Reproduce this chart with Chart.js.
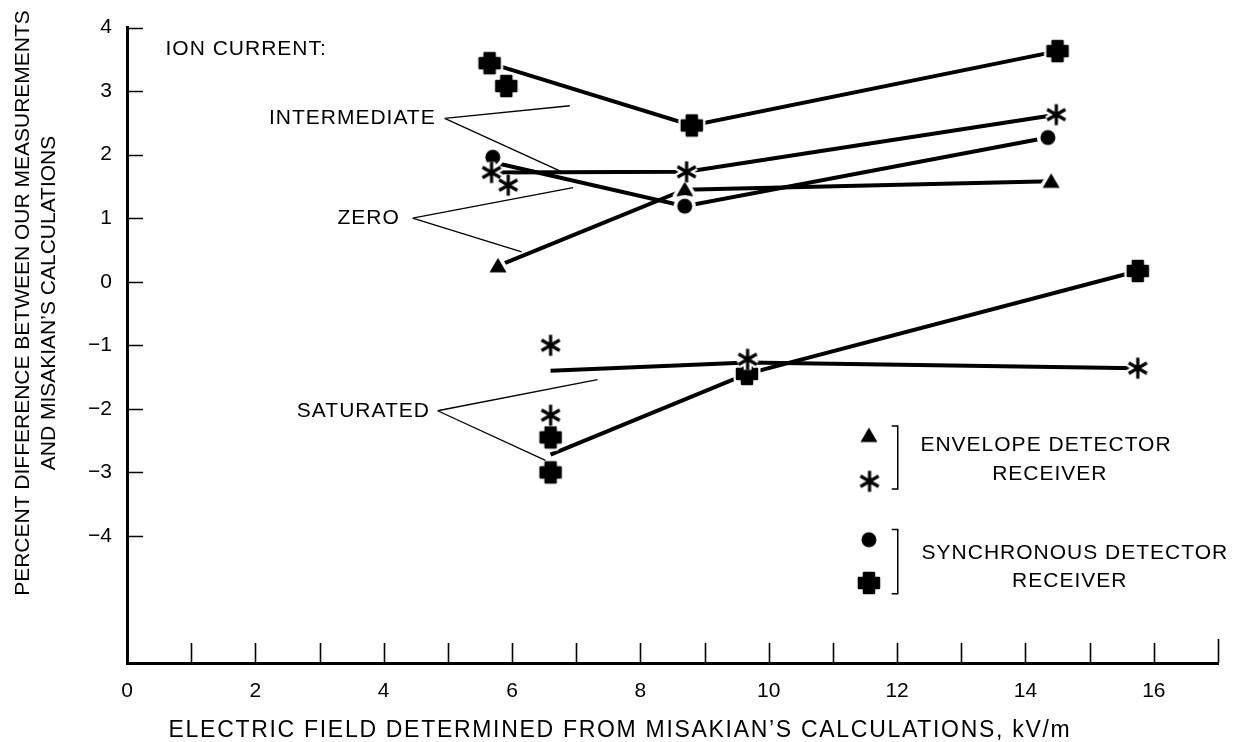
<!DOCTYPE html>
<html>
<head>
<meta charset="utf-8">
<script src="https://cdn.jsdelivr.net/npm/chart.js@4.4.0/dist/chart.umd.min.js"></script>
<style>
  html, body { margin: 0; padding: 0; background: #fff; }
  #wrap { width: 1237px; height: 742px; }
</style>
</head>
<body>
<div id="wrap"><canvas id="chart" width="1237" height="742"></canvas></div>
<script>
// values: x = field (kV/m), y = percent difference
// synchronous detector receiver (filled cross)
const syncX = [5.65, 5.91, 8.80, 14.5, 6.6, 6.6, 9.66, 15.75];
const syncY = [3.44, 3.08, 2.46, 3.63, -2.45, -3.0, -1.45, 0.17];
// synchronous detector receiver (filled circle)
const circX = [5.70, 8.69, 14.35];
const circY = [1.96, 1.19, 2.27];
// envelope detector receiver (asterisk)
const starX = [5.68, 5.94, 8.72, 14.48, 6.6, 6.6, 9.67, 15.75];
const starY = [1.72, 1.52, 1.73, 2.63, -1.0, -2.1, -1.22, -1.36];
// envelope detector receiver (triangle)
const triX = [5.78, 8.69, 14.4];
const triY = [0.25, 1.45, 1.58];

// connecting lines, one per ion current / receiver
const intSyncX = [5.65, 8.80, 14.5], intSyncY = [3.44, 2.46, 3.63];
const intEnvX = [5.68, 8.72, 14.48], intEnvY = [1.72, 1.73, 2.63];
const zeroSyncX = [5.75, 8.69, 14.35], zeroSyncY = [1.87, 1.19, 2.27];
const zeroEnvX = [5.78, 8.69, 14.4], zeroEnvY = [0.25, 1.45, 1.58];
const satEnvX = [6.6, 9.67, 15.75], satEnvY = [-1.4, -1.27, -1.36];
const satSyncX = [6.6, 9.66, 15.75], satSyncY = [-2.72, -1.45, 0.17];

// axes
const xTickLabels = [0, 2, 4, 6, 8, 10, 12, 14, 16];
const yTickLabels = [4, 3, 2, 1, 0, -1, -2, -3, -4];

const FONT = '"Liberation Sans", Arial, Helvetica, sans-serif';
Chart.defaults.font.family = FONT;
Chart.defaults.color = '#000';

const pts = (xs, ys) => xs.map((v, i) => ({ x: v, y: ys[i] }));

// marker images (black shape with a white halo so lines break at the marks)
function marker(kind) {
  const c = document.createElement('canvas');
  c.width = 32; c.height = 32;
  const g = c.getContext('2d');
  g.translate(16, 16);
  g.lineJoin = 'round';
  const shape = () => {
    g.beginPath();
    if (kind === 'circle') {
      g.arc(0, 0, 7.5, 0, Math.PI * 2);
    } else if (kind === 'tri') {
      g.moveTo(0, -8); g.lineTo(8.5, 6.5); g.lineTo(-8.5, 6.5); g.closePath();
    } else if (kind === 'cross') {
      const a = 5, L = 10;
      g.moveTo(-a, -L); g.lineTo(a, -L); g.lineTo(a, -a); g.lineTo(L, -a);
      g.lineTo(L, a); g.lineTo(a, a); g.lineTo(a, L); g.lineTo(-a, L);
      g.lineTo(-a, a); g.lineTo(-L, a); g.lineTo(-L, -a); g.lineTo(-a, -a);
      g.closePath();
    } else {
      for (const deg of [90, 30, -30]) {
        const r = deg * Math.PI / 180;
        g.moveTo(-10.5 * Math.cos(r), -10.5 * Math.sin(r));
        g.lineTo(10.5 * Math.cos(r), 10.5 * Math.sin(r));
      }
    }
  };
  shape();
  g.strokeStyle = '#fff';
  g.lineWidth = kind === 'star' ? 8 : 7;
  g.stroke();
  if (kind !== 'star') { g.fillStyle = '#fff'; g.fill(); }
  shape();
  g.strokeStyle = '#000';
  if (kind === 'star') {
    g.lineWidth = 3.2;
    g.stroke();
  } else {
    g.fillStyle = '#000';
    g.fill();
    if (kind === 'cross') { g.lineWidth = 2.5; g.stroke(); g.beginPath(); g.arc(0, 0, 7, 0, Math.PI * 2); g.fill(); }
  }
  return c;
}
const mk = { cross: marker('cross'), circle: marker('circle'), star: marker('star'), tri: marker('tri') };

const lineSet = (xs, ys) => ({
  data: pts(xs, ys), showLine: true, pointRadius: 0, borderColor: '#000',
  borderWidth: 4, order: 2, borderCapStyle: 'butt'
});
const markSet = (xs, ys, img, order) => ({
  data: pts(xs, ys), showLine: false, pointStyle: img, pointRadius: 10, order
});

// labels, leaders and key, placed in axis units
const decor = {
  id: 'decor',
  afterDraw(chart) {
    const { ctx, chartArea: area, scales: { x, y } } = chart;
    const X = v => x.getPixelForValue(v), Y = v => y.getPixelForValue(v);
    ctx.save();
    ctx.strokeStyle = '#000';
    ctx.fillStyle = '#000';

    // inward tick marks
    ctx.lineWidth = 1.6;
    ctx.beginPath();
    x.ticks.forEach(t => {
      if (t.value <= 0) return;
      const px = Math.round(X(t.value)) + 0.5;
      ctx.moveTo(px, area.bottom); ctx.lineTo(px, area.bottom - (t.value === 17 ? 24 : 20));
    });
    y.ticks.forEach(t => {
      if (t.value < -4) return;
      const py = Math.round(Y(t.value)) + 0.5;
      ctx.moveTo(area.left, py); ctx.lineTo(area.left + 16, py);
    });
    ctx.stroke();

    // group labels
    ctx.font = '21px ' + FONT;
    ctx.letterSpacing = '1px';
    ctx.textBaseline = 'middle';
    ctx.textAlign = 'left';
    ctx.fillText('ION CURRENT:', X(0.6), Y(3.66));
    ctx.textAlign = 'right';
    ctx.fillText('INTERMEDIATE', X(4.81), Y(2.58));
    ctx.fillText('ZERO', X(4.25), Y(1.0));
    ctx.fillText('SATURATED', X(4.72), Y(-2.03));

    ctx.lineWidth = 1.3;
    const leader = (ox, oy, ends) => {
      ctx.beginPath();
      ends.forEach(([ex, ey]) => { ctx.moveTo(X(ox), Y(oy)); ctx.lineTo(X(ex), Y(ey)); });
      ctx.stroke();
    };
    leader(4.95, 2.57, [[6.90, 2.77], [6.82, 1.71]]);
    leader(4.45, 1.0, [[6.95, 1.48], [6.15, 0.47]]);
    leader(4.84, -2.03, [[7.33, -1.54], [6.52, -2.81]]);

    // key
    const img = (c, vx, vy) => ctx.drawImage(c, X(vx) - c.width / 2, Y(vy) - c.height / 2);
    img(mk.tri, 11.56, -2.42);
    img(mk.star, 11.57, -3.14);
    img(mk.circle, 11.56, -4.06);
    img(mk.cross, 11.56, -4.74);
    ctx.lineWidth = 1.5;
    const bracket = (bx, top, bot) => {
      ctx.beginPath();
      ctx.moveTo(X(bx) - 6, Y(top)); ctx.lineTo(X(bx), Y(top));
      ctx.lineTo(X(bx), Y(bot)); ctx.lineTo(X(bx) - 6, Y(bot));
      ctx.stroke();
    };
    bracket(12.01, -2.27, -3.26);
    bracket(12.01, -3.9, -4.91);
    ctx.textAlign = 'center';
    ctx.fillText('ENVELOPE DETECTOR', X(14.32), Y(-2.58));
    ctx.fillText('RECEIVER', X(14.38), Y(-3.03));
    ctx.fillText('SYNCHRONOUS DETECTOR', X(14.77), Y(-4.27));
    ctx.fillText('RECEIVER', X(14.69), Y(-4.71));

    // axis titles
    ctx.font = '23px ' + FONT;
    ctx.letterSpacing = '1.7px';
    ctx.fillText('ELECTRIC FIELD DETERMINED FROM MISAKIAN\u2019S CALCULATIONS, kV/m', 620, 731);
    ctx.font = '21px ' + FONT;
    ctx.letterSpacing = '0px';
    ctx.save();
    ctx.translate(0, 303);
    ctx.rotate(-Math.PI / 2);
    ctx.fillText('PERCENT DIFFERENCE BETWEEN OUR MEASUREMENTS', 0, 23);
    ctx.fillText('AND MISAKIAN\u2019S CALCULATIONS', 0, 49);
    ctx.restore();
    ctx.restore();
  }
};

new Chart(document.getElementById('chart'), {
  type: 'scatter',
  data: {
    datasets: [
      markSet(starX, starY, mk.star, 0),
      markSet(syncX, syncY, mk.cross, 1),
      markSet(circX, circY, mk.circle, 1),
      markSet(triX, triY, mk.tri, 1),
      lineSet(intSyncX, intSyncY),
      lineSet(intEnvX, intEnvY),
      lineSet(zeroSyncX, zeroSyncY),
      lineSet(zeroEnvX, zeroEnvY),
      lineSet(satEnvX, satEnvY),
      lineSet(satSyncX, satSyncY)
    ]
  },
  options: {
    responsive: false,
    animation: false,
    layout: { padding: { top: 20, right: 19, left: 0, bottom: 0 } },
    plugins: { legend: { display: false }, tooltip: { enabled: false } },
    scales: {
      x: {
        type: 'linear', min: 0, max: 17,
        border: { color: '#000', width: 3 },
        grid: { display: false, drawTicks: false },
        ticks: {
          stepSize: 1, autoSkip: false, maxRotation: 0, padding: 16,
          font: { size: 21 }, color: '#000',
          callback: v => xTickLabels.includes(v) ? String(v) : ''
        },
        afterFit: s => { s.height = 79; }
      },
      y: {
        type: 'linear', min: -6, max: 4,
        border: { color: '#000', width: 3 },
        grid: { display: false, drawTicks: false },
        ticks: {
          stepSize: 1, autoSkip: false, padding: 15,
          font: { size: 21 }, color: '#000',
          callback: v => yTickLabels.includes(v) ? (v < 0 ? '\u2212' + Math.abs(v) : String(v)) : ''
        },
        afterFit: s => { s.width = 127; }
      }
    }
  },
  plugins: [decor]
});
</script>
</body>
</html>
